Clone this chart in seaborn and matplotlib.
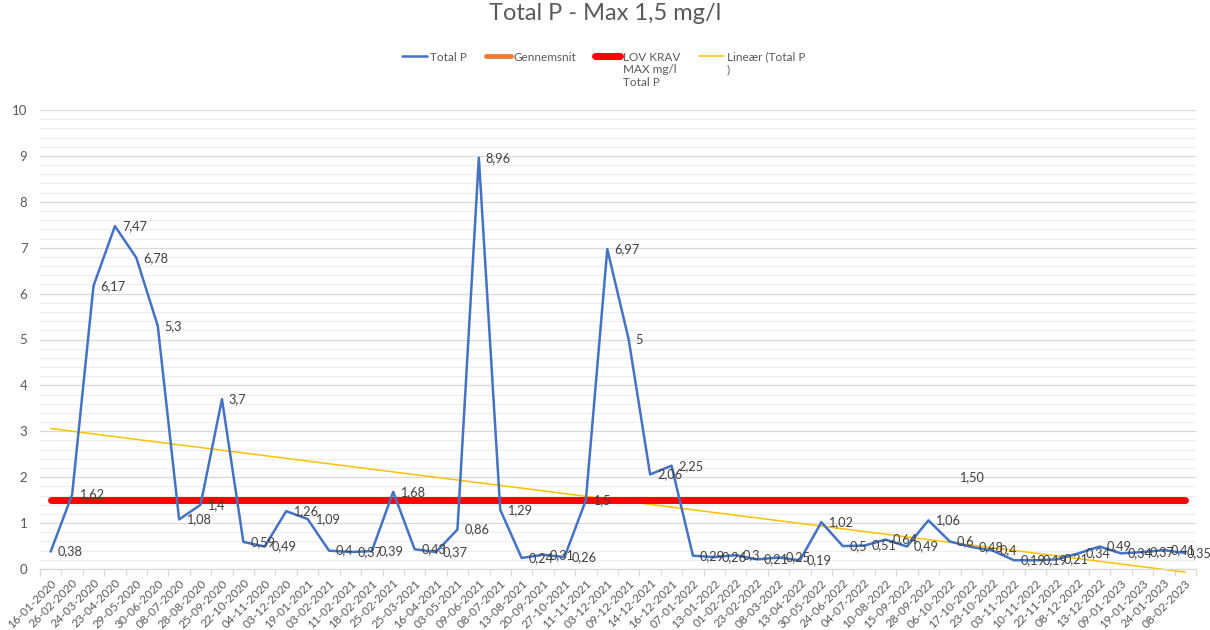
import numpy as np
import pandas as pd
import matplotlib
matplotlib.use("Agg")
import matplotlib.pyplot as plt
from matplotlib.lines import Line2D
from matplotlib.ticker import MultipleLocator, FixedLocator, FuncFormatter
import seaborn as sns

dates = ["16-01-2020", "26-02-2020", "24-03-2020", "23-04-2020", "29-05-2020", "30-06-2020",
         "08-07-2020", "28-08-2020", "25-09-2020", "22-10-2020", "04-11-2020", "03-12-2020",
         "19-01-2021", "03-02-2021", "11-02-2021", "18-02-2021", "25-02-2021", "25-03-2021",
         "16-04-2021", "03-05-2021", "09-06-2021", "08-07-2021", "13-08-2021", "20-09-2021",
         "27-10-2021", "11-11-2021", "03-12-2021", "09-12-2021", "14-12-2021", "16-12-2021",
         "07-01-2022", "13-01-2022", "01-02-2022", "23-02-2022", "08-03-2022", "13-04-2022",
         "30-05-2022", "24-06-2022", "04-07-2022", "10-08-2022", "15-09-2022", "28-09-2022",
         "06-10-2022", "17-10-2022", "23-10-2022", "03-11-2022", "10-11-2022", "22-11-2022",
         "08-12-2022", "13-12-2022", "09-01-2023", "19-01-2023", "24-01-2023", "08-02-2023"]
total_p = [0.38, 1.62, 6.17, 7.47, 6.78, 5.3, 1.08, 1.4, 3.7, 0.59, 0.49, 1.26,
           1.09, 0.4, 0.37, 0.39, 1.68, 0.43, 0.37, 0.86, 8.96, 1.29, 0.24, 0.31,
           0.26, 1.5, 6.97, 5, 2.06, 2.25, 0.29, 0.26, 0.3, 0.21, 0.25, 0.19,
           1.02, 0.5, 0.51, 0.64, 0.49, 1.06, 0.6, 0.48, 0.4, 0.19, 0.19, 0.21,
           0.34, 0.49, 0.34, 0.37, 0.41, 0.35]
lov_krav = 1.5
lov_label_date = "17-10-2022"

title = "Total P - Max 1,5 mg/l"
legend_labels = ["Total P", "Gennemsnit", "LOV KRAV\nMAX mg/l\nTotal P", "Lineær (Total P\n)"]

n = len(dates)
pos = np.arange(n)
df = pd.DataFrame({"pos": pos, "date": dates, "Total P": total_p, "LOV": [lov_krav] * n})

sns.set_theme(style="white")
plt.rcParams["font.family"] = ["Lato", "DejaVu Sans"]

TXT = "#595959"
BLUE = "#4472C4"
fig = plt.figure(figsize=(12.1, 6.3), dpi=100)
ax = fig.add_axes([40 / 1210, 1 - 569 / 630, 1156 / 1210, (569 - 110) / 630])

# trendline (Excel linear trend on category index)
coef = np.polyfit(pos + 1, np.array(total_p), 1)
trend = np.polyval(coef, pos + 1)
ax.plot([pos[0], pos[-1]], [trend[0], trend[-1]], color="#FFC000", linewidth=1.1, clip_on=False, zorder=2)

# red requirement line
sns.lineplot(data=df, x="pos", y="LOV", ax=ax, color="#FF0000", linewidth=5, zorder=3,
             solid_capstyle="round", legend=False)
# total P
sns.lineplot(data=df, x="pos", y="Total P", ax=ax, color=BLUE, linewidth=1.8, zorder=4, legend=False)

def fmt(v):
    return f"{v:g}".replace(".", ",")

for i, (x, v) in enumerate(zip(pos, total_p)):
    dx = 5 if i < n - 1 else 1
    ax.annotate(fmt(v), (x, v), xytext=(dx, 0), textcoords="offset points",
                ha="left", va="center", fontsize=9.2, color="#404040", zorder=5)

li = dates.index(lov_label_date)
ax.annotate(f"{lov_krav:.2f}".replace(".", ","), (li, lov_krav), xytext=(0, 12),
            textcoords="offset points", ha="center", va="bottom", fontsize=9.2, color="#404040")

# grid / limits
ax.set_ylim(0, 10)
ax.set_xlim(-0.5, n - 0.5)
ax.yaxis.set_major_locator(MultipleLocator(1))
ax.yaxis.set_minor_locator(MultipleLocator(0.2))
ax.yaxis.set_major_formatter(FuncFormatter(lambda v, p: f"{v:g}"))
ax.grid(axis="y", which="major", color="#d9d9d9", linewidth=0.9)
ax.grid(axis="y", which="minor", color="#eeeeee", linewidth=0.8)
ax.set_axisbelow(True)

# axes styling
for s in ["top", "right", "left"]:
    ax.spines[s].set_visible(False)
ax.spines["bottom"].set_color("#d9d9d9")
ax.spines["bottom"].set_linewidth(0.9)
ax.set_xlabel("")
ax.set_ylabel("")
ax.set_xticks(pos)
ax.set_xticklabels(dates, rotation=45, ha="right", rotation_mode="anchor", fontsize=8.5, color=TXT)
ax.xaxis.set_minor_locator(FixedLocator(np.arange(-0.5, n, 1)))
ax.tick_params(axis="x", which="major", length=0, pad=6)
ax.tick_params(axis="x", which="minor", length=5, color="#d9d9d9", width=0.9, bottom=True)
ax.tick_params(axis="y", which="both", length=0, pad=9, labelsize=9.5, labelcolor=TXT)

fig.suptitle(title, y=0.995, va="top", fontsize=17, color=TXT)

handles = [Line2D([], [], color=BLUE, linewidth=1.8),
           Line2D([], [], color="#ED7D31", linewidth=3.5),
           Line2D([], [], color="#FF0000", linewidth=5, solid_capstyle="round"),
           Line2D([], [], color="#FFC000", linewidth=1.1)]
leg = fig.legend(handles, legend_labels, loc="upper center", bbox_to_anchor=(0.499, 0.935), ncol=4,
                 frameon=False, fontsize=8.5, handlelength=2.1, handletextpad=0.25, columnspacing=1.6,
                 labelcolor=TXT)
# align handles with the first text line (top alignment)
hbox = leg._legend_handle_box
hbox.align = "top"
for col in hbox.get_children():
    col.align = "left"
    for item in col.get_children():
        item.align = "top"

fig.savefig("out.png", dpi=100)
